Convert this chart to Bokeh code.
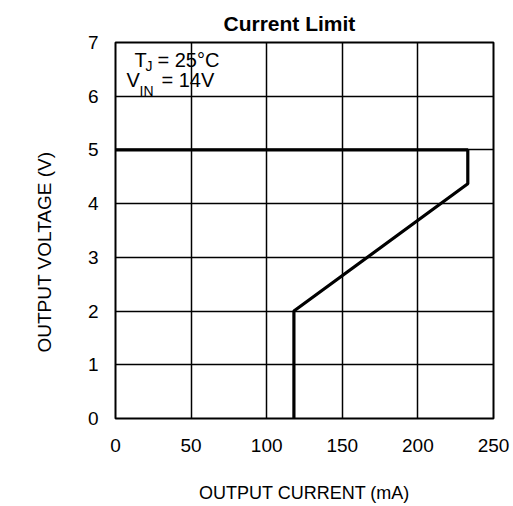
from bokeh.plotting import figure
from bokeh.models import Label, Range1d, FixedTicker, Title
from bokeh.embed import file_html
from bokeh.resources import INLINE

# ---- data ----
current_ma = [0, 233, 233, 118, 118]
voltage_v = [5.0, 5.0, 4.37, 2.0, 0.0]
x_ticks = [0, 50, 100, 150, 200, 250]
y_ticks = [0, 1, 2, 3, 4, 5, 6, 7]

W, H = 513, 506
FL, FR, FT, FB = 115, 493, 42, 418  # frame edges in pixels

p = figure(width=W, height=H, output_backend="svg", toolbar_location=None,
           x_range=Range1d(0, 250), y_range=Range1d(0, 7),
           min_border_left=FL, min_border_right=W - FR,
           min_border_top=FT, min_border_bottom=H - FB,
           title="Current Limit")
p.background_fill_color = "white"
p.border_fill_color = "white"
p.outline_line_color = "black"
p.outline_line_width = 2

p.title.text_font = "Liberation Sans"
p.title.text_font_style = "bold"
p.title.text_font_size = "21px"
p.title.text_color = "black"
p.title.align = "left"
p.title.offset = 108
p.title.standoff = 15

# pixel -> data helpers (for annotation placement only)
def dx(px):
    return (px - FL) / (FR - FL) * 250
def dy(py):
    return (FB - py) / (FB - FT) * 7

for ax in (p.xaxis[0], p.yaxis[0]):
    ax.axis_line_color = None
    ax.major_tick_line_color = None
    ax.minor_tick_line_color = None
    ax.major_label_text_font = "Liberation Sans"
    ax.major_label_text_font_size = "19px"
    ax.major_label_text_color = "black"
    ax.axis_label_text_font = "Liberation Sans"
    ax.axis_label_text_font_style = "normal"
    ax.axis_label_text_color = "black"

p.xaxis.ticker = FixedTicker(ticks=x_ticks)
p.yaxis.ticker = FixedTicker(ticks=y_ticks)
p.xaxis.major_label_standoff = 14
p.yaxis.major_label_standoff = 11

p.xaxis.axis_label = "OUTPUT CURRENT (mA)"
p.xaxis.axis_label_text_font_size = "18px"
p.xaxis.axis_label_standoff = 28

# y-axis title as a side title so it can be shifted along the axis
ytitle = Title(text="OUTPUT VOLTAGE (V)", align="left", offset=66,
               vertical_align="bottom",
               text_font="Liberation Sans", text_font_style="normal",
               text_font_size="19px", text_color="black", standoff=60)
p.add_layout(ytitle, "left")

for g in (p.xgrid[0], p.ygrid[0]):
    g.grid_line_color = "black"
    g.grid_line_width = 1.5
    g.grid_line_alpha = 1

p.line(current_ma, voltage_v, line_color="black", line_width=3.2)

# condition annotation
def note(text, px, py, size):
    p.add_layout(Label(x=dx(px), y=dy(py), text=text, text_align="left",
                       text_baseline="alphabetic", text_font="Liberation Sans",
                       text_font_size=size, text_color="black"))

note("T", 134, 59, "20px")
note("J", 145, 65, "14px")
note("= 25°C", 157, 59, "20px")
note("V", 126, 79, "20px")
note("IN", 139, 90, "14px")
note("= 14V", 161, 79, "20px")

open("out.html", "w").write(file_html(p, INLINE))
